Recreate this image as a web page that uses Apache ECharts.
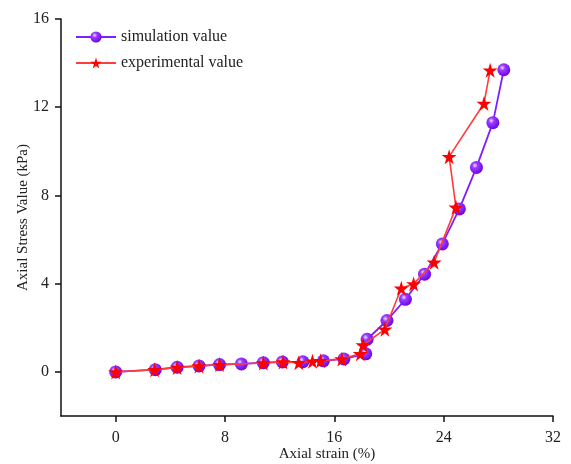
<!DOCTYPE html>
<html>
<head>
<meta charset="utf-8">
<script src="https://cdn.jsdelivr.net/npm/echarts@6/dist/echarts.min.js"></script>
<style>
  html, body { margin: 0; padding: 0; background: #fff; }
  #chart { width: 571px; height: 464px; }
</style>
</head>
<body>
<div id="chart"></div>
<script>
// simulation value (strain %, stress kPa)
const simStrain = [0, 2.9, 4.5, 6.1, 7.6, 9.2, 10.8, 12.2, 13.7, 15.2, 16.7, 18.3, 18.4, 19.85, 21.2, 22.6, 23.9, 25.15, 26.4, 27.6, 28.4];
const simStress = [0, 0.1, 0.21, 0.27, 0.33, 0.36, 0.42, 0.45, 0.46, 0.5, 0.59, 0.82, 1.48, 2.33, 3.29, 4.43, 5.8, 7.39, 9.27, 11.3, 13.7];

// experimental value
const expStrain = [0, 2.85, 4.5, 6.1, 7.6, 10.8, 12.25, 13.4, 14.4, 15.0, 16.55, 17.9, 18.1, 19.7, 20.9, 21.8, 23.3, 24.9, 24.4, 26.95, 27.4];
const expStress = [0, 0.1, 0.2, 0.27, 0.33, 0.4, 0.45, 0.42, 0.48, 0.51, 0.59, 0.82, 1.22, 1.93, 3.79, 3.99, 4.97, 7.46, 9.76, 12.17, 13.68];

const xTicks = [0, 8, 16, 24, 32];
const yTicks = [0, 4, 8, 12, 16];

const starPath = 'path://M50,0 L61,35 L98,35 L68,57 L79,91 L50,70 L21,91 L32,57 L2,35 L39,35 Z';
const font = '"Liberation Serif", "Times New Roman", serif';

function pairs(xs, ys) {
  return xs.map(function (x, i) { return [x, ys[i]]; });
}

const myChart = echarts.init(document.getElementById('chart'));

const option = {
  animation: false,
  backgroundColor: '#fff',
  grid: { left: 61, right: 18, top: 19, bottom: 48, outerBoundsMode: 'none', containLabel: false },
  legend: {
    orient: 'vertical',
    left: 70,
    top: 24,
    itemWidth: 40,
    itemHeight: 14,
    itemGap: 10,
    textStyle: { fontFamily: font, fontSize: 16, color: '#222' },
    data: ['simulation value', 'experimental value']
  },
  xAxis: {
    type: 'value',
    min: -4,
    max: 32,
    name: 'Axial strain (%)',
    nameLocation: 'middle',
    nameGap: 31,
    nameMoveOverlap: false,
    nameTextStyle: { fontFamily: font, fontSize: 15, color: '#222', padding: [0, 0, 0, 40] },
    axisLine: { onZero: false, lineStyle: { color: '#111', width: 1.5 } },
    axisTick: { customValues: xTicks, length: 6, lineStyle: { color: '#111', width: 1.5 } },
    axisLabel: { customValues: xTicks, fontFamily: font, fontSize: 16, color: '#222', margin: 14 },
    splitLine: { show: false }
  },
  yAxis: {
    type: 'value',
    min: -2,
    max: 16,
    name: 'Axial Stress Value (kPa)',
    nameLocation: 'middle',
    nameGap: 30,
    nameMoveOverlap: false,
    nameTextStyle: { fontFamily: font, fontSize: 15, color: '#222' },
    axisLine: { show: true, onZero: false, lineStyle: { color: '#111', width: 1.5 } },
    axisTick: { show: true, customValues: yTicks, length: 6, lineStyle: { color: '#111', width: 1.5 } },
    axisLabel: { customValues: yTicks, fontFamily: font, fontSize: 16, color: '#222', margin: 12 },
    splitLine: { show: false }
  },
  series: [
    {
      name: 'simulation value',
      type: 'line',
      data: pairs(simStrain, simStress),
      symbol: 'circle',
      symbolSize: 13,
      lineStyle: { color: '#7f1fff', width: 1.8 },
      itemStyle: {
        color: {
          type: 'radial', x: 0.38, y: 0.35, r: 0.7,
          colorStops: [
            { offset: 0, color: '#f0e0ff' },
            { offset: 0.3, color: '#9a3cff' },
            { offset: 1, color: '#6a00e0' }
          ]
        }
      },
      z: 2
    },
    {
      name: 'experimental value',
      type: 'line',
      data: pairs(expStrain, expStress),
      symbol: starPath,
      symbolSize: 15,
      lineStyle: { color: '#ff3c3c', width: 1.6 },
      itemStyle: { color: '#ff0000' },
      z: 3
    }
  ]
};

myChart.setOption(option);

window.addEventListener('resize', function () {
  myChart.resize();
});
</script>
</body>
</html>
